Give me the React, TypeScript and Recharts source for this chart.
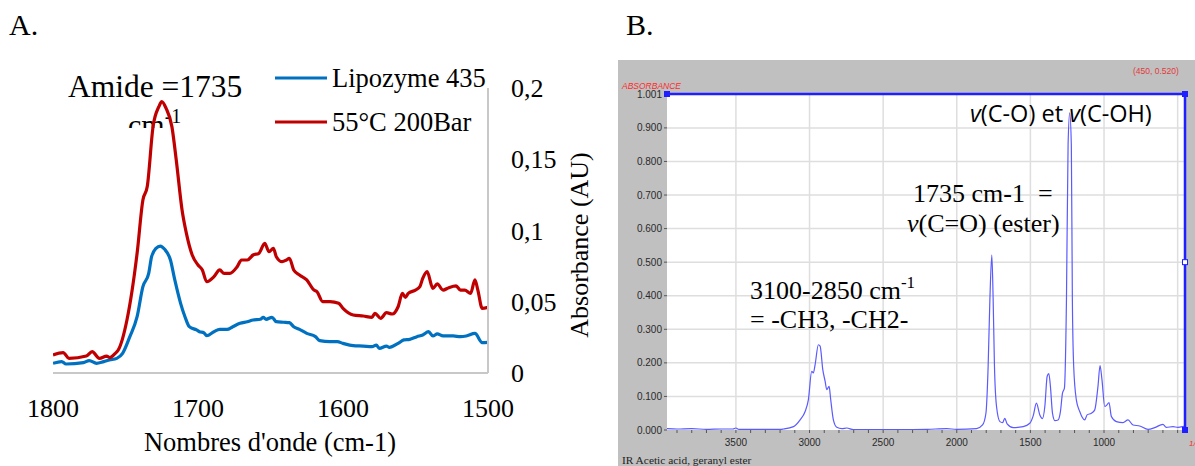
import { LineChart, Line, XAxis, YAxis, CartesianGrid, ReferenceLine, ReferenceDot } from "recharts";

// Panel A - wavenumbers (cm-1) and absorbance
const redWave = [1800, 1793, 1789, 1777, 1773, 1768, 1763, 1761, 1757, 1755, 1749, 1742, 1738, 1735, 1731, 1727, 1725, 1722, 1718, 1715, 1711, 1708, 1704, 1700, 1697, 1694, 1689, 1685, 1682, 1678, 1673, 1670, 1666, 1662, 1658, 1654, 1651, 1648, 1646, 1642, 1639, 1637, 1634, 1630, 1625, 1620, 1618, 1614, 1609, 1603, 1600, 1593, 1586, 1580, 1578, 1574, 1570, 1566, 1562, 1559, 1557, 1555, 1550, 1547, 1545, 1542, 1538, 1535, 1531, 1527, 1522, 1519, 1516, 1512, 1509, 1507, 1504, 1500];
const redAbs = [0.0126, 0.0143, 0.0103, 0.0119, 0.015, 0.0103, 0.0119, 0.0108, 0.0138, 0.0161, 0.0372, 0.084, 0.1214, 0.1308, 0.1729, 0.1869, 0.1904, 0.1857, 0.1729, 0.1495, 0.1144, 0.098, 0.0828, 0.0758, 0.0723, 0.0641, 0.0676, 0.0723, 0.0699, 0.0699, 0.0746, 0.0793, 0.0793, 0.0828, 0.084, 0.091, 0.0851, 0.0875, 0.0816, 0.0781, 0.0793, 0.0805, 0.0723, 0.0688, 0.0653, 0.0582, 0.0571, 0.0501, 0.0501, 0.0489, 0.0454, 0.0407, 0.04, 0.0391, 0.0419, 0.0384, 0.0423, 0.0414, 0.0465, 0.0559, 0.0531, 0.0559, 0.0582, 0.0606, 0.0664, 0.0711, 0.0594, 0.0625, 0.0582, 0.0599, 0.0611, 0.0582, 0.0582, 0.0559, 0.0653, 0.0582, 0.0454, 0.0461];

const blueWave = [1800, 1794, 1791, 1779, 1775, 1770, 1765, 1761, 1756, 1752, 1747, 1742, 1738, 1734, 1732, 1729, 1726, 1723, 1719, 1716, 1712, 1709, 1706, 1701, 1699, 1696, 1694, 1689, 1685, 1680, 1676, 1671, 1666, 1662, 1657, 1655, 1653, 1649, 1646, 1641, 1637, 1634, 1630, 1625, 1619, 1616, 1609, 1604, 1600, 1593, 1586, 1580, 1577, 1575, 1570, 1568, 1562, 1558, 1554, 1549, 1545, 1541, 1538, 1535, 1531, 1524, 1519, 1515, 1509, 1504, 1500];
const blueAbs = [0.0068, 0.008, 0.0063, 0.0073, 0.0087, 0.0068, 0.008, 0.0091, 0.0103, 0.0138, 0.0255, 0.0395, 0.0606, 0.0699, 0.0816, 0.0875, 0.0891, 0.0868, 0.0793, 0.0653, 0.0489, 0.0395, 0.0325, 0.0302, 0.029, 0.0283, 0.0262, 0.029, 0.0306, 0.0306, 0.0325, 0.0349, 0.036, 0.0372, 0.0377, 0.0391, 0.0377, 0.0391, 0.036, 0.0356, 0.0353, 0.0325, 0.0306, 0.0278, 0.0255, 0.0227, 0.022, 0.022, 0.0208, 0.0192, 0.0189, 0.0185, 0.0196, 0.0173, 0.0189, 0.018, 0.0208, 0.0232, 0.0236, 0.0255, 0.0267, 0.029, 0.026, 0.0274, 0.026, 0.026, 0.0255, 0.026, 0.0278, 0.0213, 0.0215];

const ticksA = [1800, 1700, 1600, 1500];
const yTicksA = [0, 0.05, 0.1, 0.15, 0.2];

// Panel B - IR spectrum, acetic acid geranyl ester
const specWave = [3968, 3900, 3800, 3700, 3600, 3520, 3500, 3480, 3400, 3300, 3200, 3177, 3109, 3064, 3030, 3008, 2985, 2974, 2962, 2940, 2928, 2910, 2894, 2883, 2867, 2856, 2838, 2815, 2780, 2747, 2702, 2600, 2400, 2200, 2069, 2000, 1866, 1825, 1802, 1787, 1775, 1762, 1753, 1744, 1730, 1707, 1689, 1674, 1658, 1617, 1549, 1504, 1481, 1459, 1436, 1418, 1402, 1386, 1375, 1364, 1350, 1334, 1312, 1296, 1282, 1269, 1255, 1244, 1233, 1222, 1215, 1206, 1188, 1165, 1131, 1115, 1086, 1063, 1041, 1027, 1014, 995, 980, 966, 950, 916, 871, 837, 803, 758, 701, 656, 600, 577, 532, 498, 468, 452];
const specAbs = [0.004, 0.003, 0.004, 0.002, 0.003, 0.003, 0.006, 0.002, 0.002, 0.002, 0.002, 0.003, 0.01, 0.03, 0.055, 0.09, 0.175, 0.17, 0.195, 0.254, 0.25, 0.18, 0.145, 0.12, 0.13, 0.09, 0.03, 0.008, 0.004, 0.006, 0.001, 0.001, 0.001, 0.002, 0.004, 0.002, 0.004, 0.015, 0.05, 0.19, 0.39, 0.521, 0.39, 0.19, 0.07, 0.025, 0.022, 0.035, 0.018, 0.007, 0.01, 0.02, 0.042, 0.08, 0.045, 0.034, 0.07, 0.16, 0.168, 0.13, 0.05, 0.028, 0.03, 0.055, 0.11, 0.125, 0.39, 0.85, 0.945, 0.85, 0.39, 0.19, 0.09, 0.055, 0.03, 0.045, 0.05, 0.06, 0.13, 0.192, 0.15, 0.07, 0.075, 0.082, 0.04, 0.025, 0.022, 0.03, 0.015, 0.012, 0.002, 0.007, 0.017, 0.008, 0.01, 0.008, 0.01, 0.012];

const minorTicksB = [3900, 3800, 3700, 3600, 3500, 3400, 3300, 3200, 3100, 3000, 2900, 2800, 2700, 2600, 2500, 2400, 2300, 2200, 2100, 2000, 1900, 1800, 1700, 1600, 1500, 1400, 1300, 1200, 1100, 1000, 900, 800, 700, 600, 500];
const gridXB = [3500, 3000, 2500, 2000, 1500, 1000, 500];
const yTicksB = [0, 0.1, 0.2, 0.3, 0.4, 0.5, 0.6, 0.7, 0.8, 0.9, 1.001];
const gridYB = [0.1, 0.2, 0.3, 0.4, 0.5, 0.6, 0.7, 0.8, 0.9];

const redData = redWave.map((w, i) => ({ w, v: redAbs[i] }));
const blueData = blueWave.map((w, i) => ({ w, v: blueAbs[i] }));
const specData = specWave.map((w, i) => ({ w, v: specAbs[i] }));

const serif = "'Liberation Serif', 'Times New Roman', serif";
const sans = "'Liberation Sans', Arial, sans-serif";
const frameBlue = "#1f1fff";

const square = (filled: boolean) => (p: any) => (
  <rect x={p.cx - 2.5} y={p.cy - 2.5} width={5} height={5} fill={filled ? frameBlue : "#fff"} stroke={frameBlue} strokeWidth={1} />
);

export default function App() {
  return (
    <div style={{ position: "absolute", left: 0, top: 0, width: 1195, height: 466, overflow: "hidden", background: "#fff" }}>
      <div style={{ position: "absolute", left: 0, top: 0 }}>
        <LineChart width={600} height={466} margin={{ top: 88, right: 0, bottom: 63, left: 53 }}>
          <defs>
            <clipPath id="cmClip">
              <rect x={0} y={0} width={270} height={128} />
            </clipPath>
          </defs>
          <XAxis
            dataKey="w"
            type="number"
            domain={[1500, 1800]}
            reversed
            ticks={ticksA}
            height={30}
            tickLine={false}
            axisLine={{ stroke: "#c8c8c8", strokeWidth: 2 }}
            tickMargin={20}
            tick={{ fontFamily: serif, fontSize: 26, fill: "#000" }}
            allowDataOverflow
          />
          <YAxis
            type="number"
            orientation="right"
            width={112}
            domain={[0, 0.2]}
            ticks={yTicksA}
            tickLine={false}
            axisLine={{ stroke: "#c8c8c8", strokeWidth: 2 }}
            tickMargin={17}
            tickFormatter={(v: number) => String(v).replace(".", ",")}
            tick={{ fontFamily: serif, fontSize: 26, fill: "#000" }}
          />
          <Line data={blueData} dataKey="v" type="monotone" stroke="#0070C0" strokeWidth={3.2} dot={false} isAnimationActive={false} />
          <Line data={redData} dataKey="v" type="monotone" stroke="#C00000" strokeWidth={3.2} dot={false} isAnimationActive={false} />

          <text x={9} y={35} fontFamily={serif} fontSize={30} fill="#000">A.</text>
          <text x={68} y={97} fontFamily={serif} fontSize={31.5} fill="#000">Amide =1735</text>
          <text x={128} y={135} fontFamily={serif} fontSize={30} fill="#000" clipPath="url(#cmClip)">
            cm<tspan dy={-12} fontSize={20}>-1</tspan>
          </text>

          <line x1={275} x2={327} y1={78} y2={78} stroke="#0070C0" strokeWidth={3.2} />
          <text x={332} y={87} fontFamily={serif} fontSize={26.5} fill="#000">Lipozyme 435</text>
          <line x1={275} x2={327} y1={122} y2={122} stroke="#C00000" strokeWidth={3.2} />
          <text x={332} y={131} fontFamily={serif} fontSize={26.5} fill="#000">55°C 200Bar</text>

          <text x={0} y={0} transform="translate(588, 245) rotate(-90)" textAnchor="middle" fontFamily={serif} fontSize={26} fill="#000">Absorbance (AU)</text>
          <text x={270} y={451} textAnchor="middle" fontFamily={serif} fontSize={26.5} fill="#000">Nombres d'onde (cm-1)</text>
        </LineChart>
      </div>

      <div style={{ position: "absolute", left: 618, top: 0, width: 577, height: 60 }}>
        <svg width={100} height={60}>
          <text x={8} y={35} fontFamily={serif} fontSize={30} fill="#000">B.</text>
        </svg>
      </div>

      <div style={{ position: "absolute", left: 618, top: 60, width: 577, height: 406, background: "#c0c0c0" }}>
        <LineChart width={577} height={406} margin={{ top: 34, right: 10, bottom: 6, left: 0 }}>
          <CartesianGrid fill="#fff" stroke="#dedede" strokeWidth={1.5} horizontalValues={gridYB} verticalValues={gridXB} />
          <XAxis
            dataKey="w"
            type="number"
            domain={[450, 3968]}
            reversed
            ticks={minorTicksB}
            interval={0}
            height={30}
            axisLine={false}
            tickLine={{ stroke: "#555", strokeWidth: 1 }}
            tickSize={3}
            tickMargin={6}
            tickFormatter={(v: number) => (v % 500 === 0 && v !== 500 ? String(v) : "")}
            tick={{ fontFamily: sans, fontSize: 10, fill: "#2a2a2a" }}
            allowDataOverflow
          />
          <YAxis
            type="number"
            width={49}
            domain={[0, 1.001]}
            ticks={yTicksB}
            interval={0}
            axisLine={false}
            tickLine={{ stroke: "#555", strokeWidth: 1 }}
            tickSize={3}
            tickMargin={2}
            tickFormatter={(v: number) => v.toFixed(3)}
            tick={{ fontFamily: sans, fontSize: 10, fill: "#2a2a2a" }}
            allowDataOverflow
          />
          <Line data={specData} dataKey="v" type="monotone" stroke="#5a5aff" strokeWidth={1.2} dot={false} isAnimationActive={false} />
          <ReferenceLine y={1.001} stroke={frameBlue} strokeWidth={2.5} />
          <ReferenceLine x={450} stroke={frameBlue} strokeWidth={2.5} />
          <ReferenceDot x={3968} y={1.001} r={3} shape={square(true)} />
          <ReferenceDot x={450} y={1.001} r={3} shape={square(true)} />
          <ReferenceDot x={450} y={0} r={3} shape={square(true)} />
          <ReferenceDot x={450} y={0.5} r={3} shape={square(false)} />

          <text x={4} y={29} fontFamily={sans} fontStyle="italic" fontSize={8.5} fill="#ff2a2a">ABSORBANCE</text>
          <text x={515} y={14} fontFamily={sans} fontSize={8.5} fill="#e23a3a">(450, 0.520)</text>
          <text x={571} y={386} fontFamily={sans} fontStyle="italic" fontSize={8} fill="#ff2a2a">1/0</text>
          <text x={4} y={404} fontFamily={serif} fontSize={11.4} fill="#222">IR Acetic acid, geranyl ester</text>

          <text x={352} y={62} fontFamily="'Open Sans', sans-serif" fontSize={23.5} fill="#000">
            <tspan fontStyle="italic">v</tspan>(C-O) et <tspan fontStyle="italic">v</tspan>(C-OH)
          </text>
          <text x={295} y={142} fontFamily={serif} fontSize={26} fill="#000" style={{ whiteSpace: "pre" }}>1735 cm-1  =</text>
          <text x={289} y={172} fontFamily={serif} fontSize={26} fill="#000">
            <tspan fontStyle="italic">v</tspan>(C=O) (ester)
          </text>
          <text x={132} y={239} fontFamily={serif} fontSize={26} fill="#000">
            3100-2850 cm<tspan dy={-11} fontSize={17}>-1</tspan>
          </text>
          <text x={132} y={268} fontFamily={serif} fontSize={26} fill="#000">= -CH3, -CH2-</text>
        </LineChart>
      </div>
    </div>
  );
}
